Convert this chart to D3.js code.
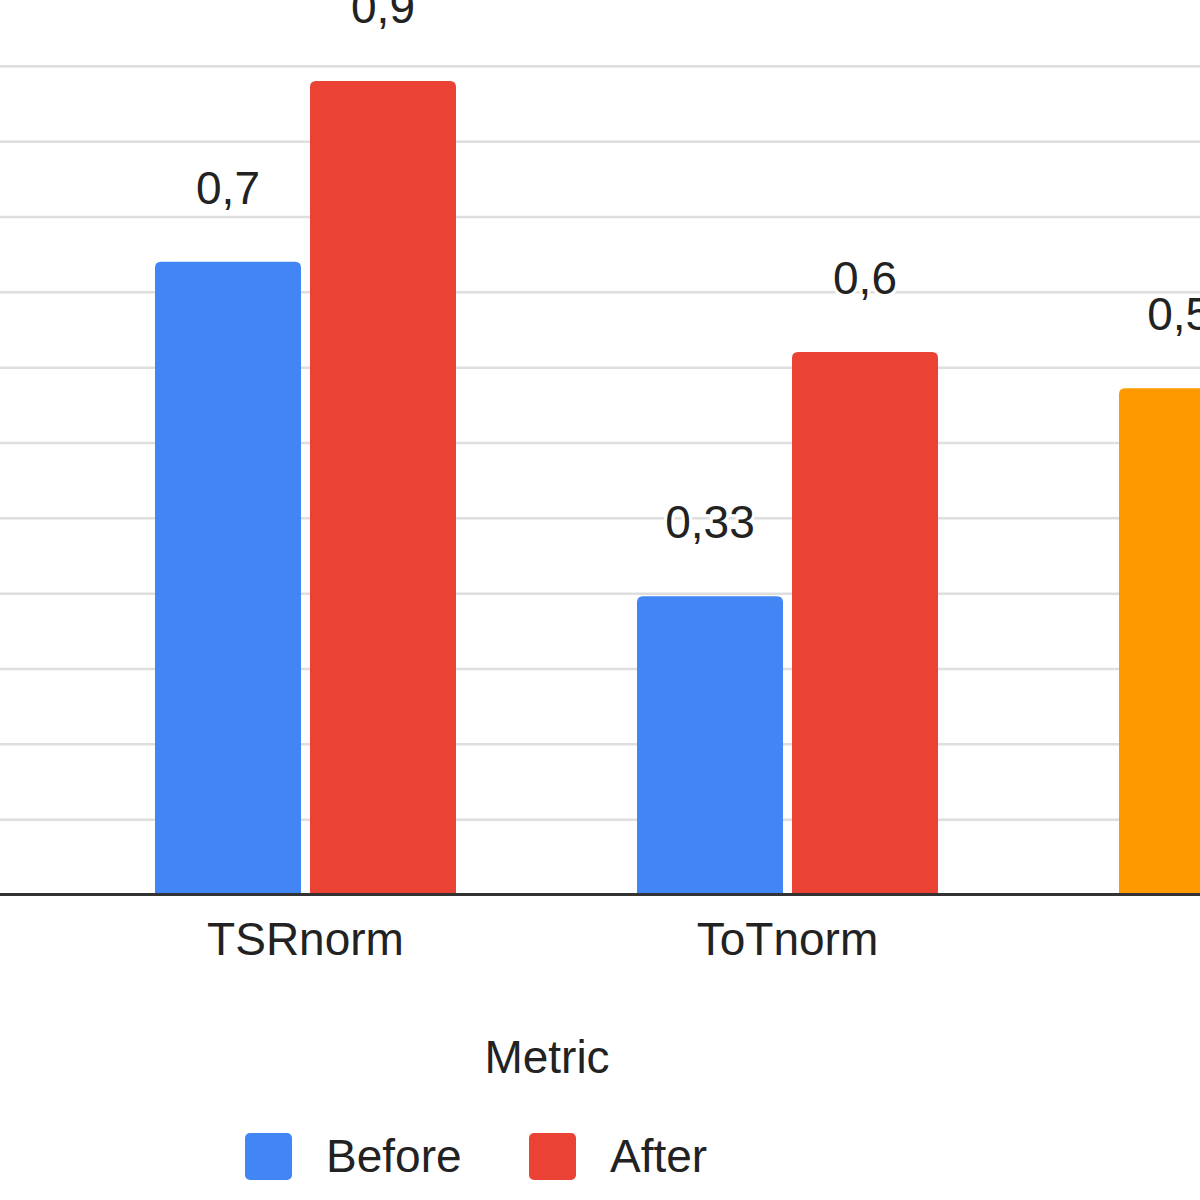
<!DOCTYPE html>
<html>
<head>
<meta charset="utf-8">
<script src="https://cdn.jsdelivr.net/npm/d3@7"></script>
<style>
  html, body { margin: 0; padding: 0; background: #fff; overflow: hidden; }
  svg { display: block; font-family: "Liberation Sans", Arial, sans-serif; }
</style>
</head>
<body>
<svg id="chart" width="1200" height="1200"></svg>
<script>
// ---- data ----
const categories = ["TSRnorm", "ToTnorm", "cat3"];
const categoryLabels = ["TSRnorm", "ToTnorm", ""]; // third label lies outside the visible crop
const seriesNames = ["Before", "After"];
const beforeValues = [0.7, 0.33, 0.56];
const afterValues = [0.9, 0.6, null];
const valueLabels = [["0,7", "0,9"], ["0,33", "0,6"], ["0,56", ""]];
const xAxisTitle = "Metric";

// ---- styles ----
const seriesColors = ["#4285F4", "#EA4335"];
const overrideColor = "#FF9900"; // third category "Before" bar
const textColor = "#222222";

const svg = d3.select("#chart");
const W = 1200;
const baseY = 894.5;

const y = d3.scaleLinear().domain([0, 1]).range([baseY, baseY - 904]);
const x0 = d3.scaleBand().domain(categories).range([64.5, 64.5 + 1446]).paddingInner(0.3755).paddingOuter(0.18776);
const x1 = d3.scaleBand().domain(seriesNames).range([0, x0.bandwidth()]).paddingInner(0.058);

// gridlines: major every 0.25 with 2 minor between
const gridValues = d3.range(1, 13).map(i => i * 0.25 / 3);
const gridAxis = d3.axisLeft(y).tickValues(gridValues).tickSize(-W * 2).tickFormat("");
const gg = svg.append("g").attr("transform", "translate(-10,0)").call(gridAxis);
gg.select(".domain").remove();
gg.selectAll(".tick line").attr("stroke", "#dedede").attr("stroke-width", 2.5);

// bars
const rows = categories.map((c, i) => ({
  cat: c,
  vals: [
    { s: "Before", v: beforeValues[i], label: valueLabels[i][0], color: i === 2 ? overrideColor : seriesColors[0] },
    { s: "After", v: afterValues[i], label: valueLabels[i][1], color: seriesColors[1] }
  ].filter(d => d.v != null)
}));

function topRounded(x, yTop, w, yBot, r) {
  return `M${x},${yBot} L${x},${yTop + r} Q${x},${yTop} ${x + r},${yTop} L${x + w - r},${yTop} Q${x + w},${yTop} ${x + w},${yTop + r} L${x + w},${yBot} Z`;
}

const groups = svg.append("g").selectAll("g").data(rows).join("g")
  .attr("transform", d => `translate(${x0(d.cat)},0)`);

groups.selectAll("path").data(d => d.vals).join("path")
  .attr("d", d => topRounded(x1(d.s), y(d.v), x1.bandwidth(), baseY, 6))
  .attr("fill", d => d.color);

groups.selectAll("text").data(d => d.vals).join("text")
  .attr("x", d => x1(d.s) + x1.bandwidth() / 2)
  .attr("y", d => y(d.v) - 58)
  .attr("text-anchor", "middle")
  .attr("font-size", 46)
  .attr("fill", textColor)
  .attr("stroke", "#fff").attr("stroke-width", 6).attr("paint-order", "stroke")
  .text(d => d.label);

// x axis (category labels)
const xAxis = d3.axisBottom(x0).tickSize(0).tickPadding(0)
  .tickFormat((d, i) => categoryLabels[i]);
const xg = svg.append("g").attr("transform", `translate(0,${baseY})`).call(xAxis);
xg.select(".domain").remove();
xg.selectAll(".tick text")
  .attr("dy", 0).attr("y", 60)
  .attr("font-size", 46).attr("fill", textColor)
  .attr("font-family", "Liberation Sans, Arial, sans-serif");
svg.append("line").attr("x1", 0).attr("x2", W).attr("y1", baseY).attr("y2", baseY)
  .attr("stroke", "#333").attr("stroke-width", 3);

// axis title
svg.append("text").attr("x", 547).attr("y", 1073).attr("text-anchor", "middle")
  .attr("font-size", 46).attr("fill", textColor).text(xAxisTitle);

// legend
const legend = svg.append("g").selectAll("g").data(seriesNames).join("g")
  .attr("transform", (d, i) => `translate(${245 + i * 284},1133)`);
legend.append("rect").attr("width", 47).attr("height", 47).attr("rx", 5)
  .attr("fill", (d, i) => seriesColors[i]);
legend.append("text").attr("x", 81).attr("y", 39).attr("font-size", 46)
  .attr("fill", textColor).text(d => d);
</script>
</body>
</html>
